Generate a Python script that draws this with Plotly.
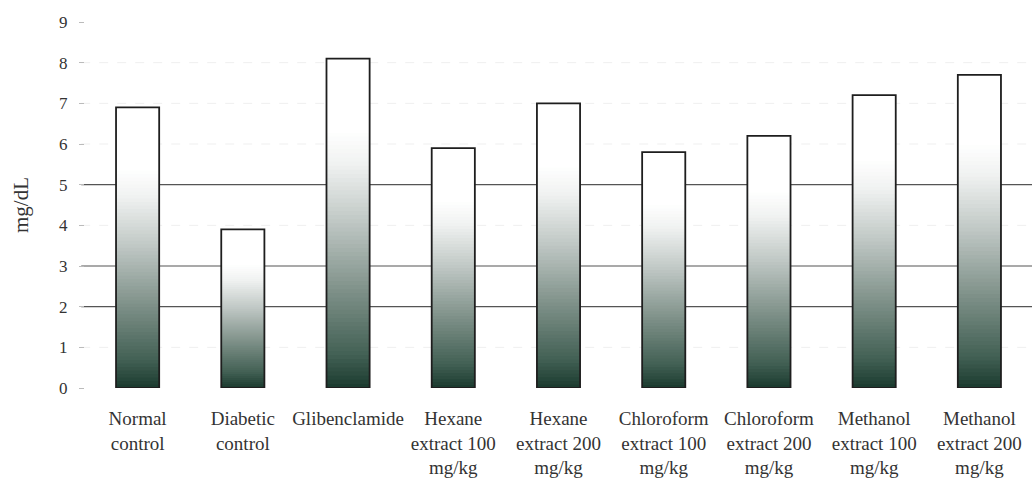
import plotly.graph_objects as go

# Serum levels (mg/dL) per treatment group
groups = [
    "Normal<br>control",
    "Diabetic<br>control",
    "Glibenclamide",
    "Hexane<br>extract 100<br>mg/kg",
    "Hexane<br>extract 200<br>mg/kg",
    "Chloroform<br>extract 100<br>mg/kg",
    "Chloroform<br>extract 200<br>mg/kg",
    "Methanol<br>extract 100<br>mg/kg",
    "Methanol<br>extract 200<br>mg/kg",
]
values = [6.9, 3.9, 8.1, 5.9, 7.0, 5.8, 6.2, 7.2, 7.7]
y_ticks = list(range(0, 10))
major_grid = [2, 3, 5]
minor_grid = [1, 4, 6, 7, 8]

SERIF = "Times New Roman, Liberation Serif, serif"

# Vertical fill gradient: dark green at the base fading to white near the top
stops = [
    (0.00, (26, 58, 46)),
    (0.10, (66, 96, 84)),
    (0.30, (128, 146, 138)),
    (0.50, (190, 198, 195)),
    (0.68, (240, 242, 241)),
    (0.78, (255, 255, 255)),
    (1.00, (255, 255, 255)),
]


def grad_color(t):
    for (t0, c0), (t1, c1) in zip(stops[:-1], stops[1:]):
        if t <= t1:
            f = (t - t0) / (t1 - t0)
            c = [round(a + (b - a) * f) for a, b in zip(c0, c1)]
            return f"rgb({c[0]},{c[1]},{c[2]})"
    return "rgb(255,255,255)"


N_SEG = 80
BAR_WIDTH = 0.41
fig = go.Figure()

for i in range(N_SEG):
    lo = i / N_SEG
    hi = min(i + 1.6, N_SEG) / N_SEG  # slight overlap to hide seams
    fig.add_trace(go.Bar(
        x=groups,
        y=[v * (hi - lo) for v in values],
        base=[v * lo for v in values],
        width=BAR_WIDTH,
        marker=dict(color=grad_color((i + 0.5) / N_SEG), line=dict(width=0)),
        hoverinfo="skip",
        showlegend=False,
    ))

# Bar outlines
fig.add_trace(go.Bar(
    x=groups,
    y=values,
    width=BAR_WIDTH,
    marker=dict(color="rgba(0,0,0,0)", line=dict(color="#1e1e1e", width=1.8)),
    showlegend=False,
))

shapes = []
for g in major_grid:
    shapes.append(dict(type="line", xref="paper", yref="y", x0=-0.004, x1=1,
                       y0=g, y1=g, line=dict(color="#555555", width=1.1),
                       layer="below"))
for g in minor_grid:
    shapes.append(dict(type="line", xref="paper", yref="y", x0=-0.004, x1=1,
                       y0=g, y1=g, line=dict(color="#efefef", width=1, dash="dash"),
                       layer="below"))

fig.update_layout(
    barmode="overlay",
    width=1032,
    height=493,
    margin=dict(l=85, r=0, t=22, b=105),
    paper_bgcolor="white",
    plot_bgcolor="white",
    font=dict(family=SERIF, color="#333333"),
    shapes=shapes,
    xaxis=dict(
        showgrid=False,
        showline=False,
        zeroline=False,
        ticks="",
        tickfont=dict(size=19, family=SERIF, color="#333333"),
        ticklabelstandoff=17,
        tickangle=0,
    ),
    yaxis=dict(
        range=[0, 9],
        tickvals=y_ticks,
        showgrid=False,
        zeroline=False,
        showline=False,
        ticks="outside",
        ticklen=5,
        tickcolor="#bbbbbb",
        tickfont=dict(size=17, family=SERIF, color="#333333"),
        ticklabelstandoff=8,
        title=dict(text="mg/dL", font=dict(size=21, family=SERIF,
                                            color="#333333"), standoff=24),
    ),
)

fig.write_html("out.html")
